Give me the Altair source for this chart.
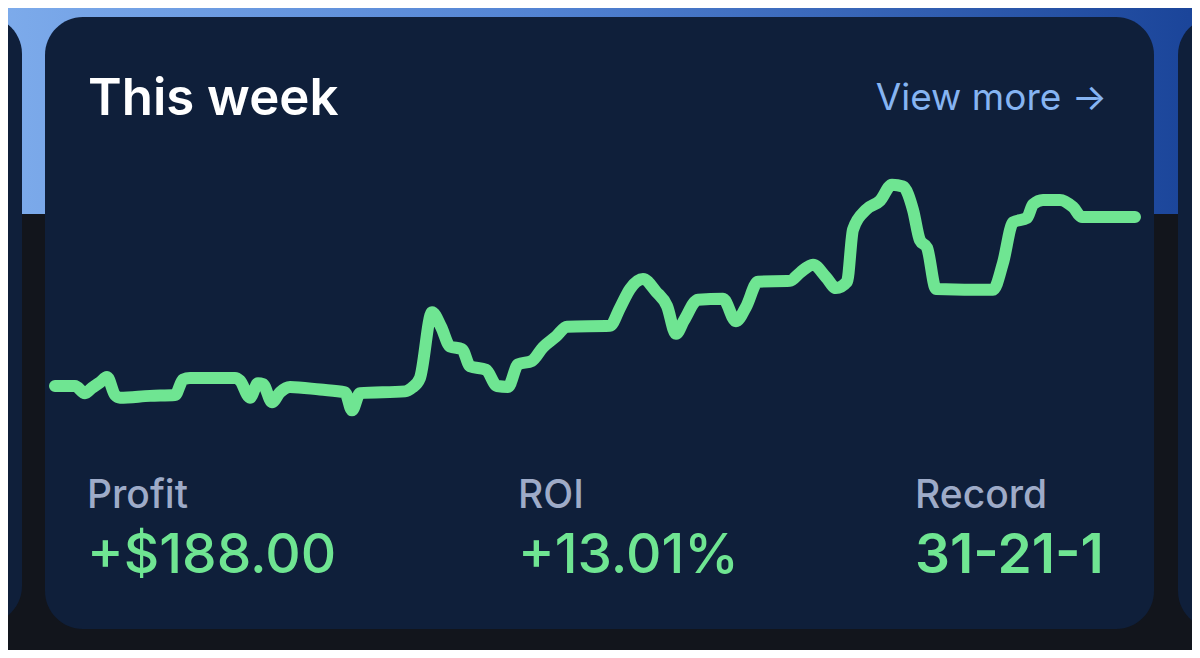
import altair as alt
import pandas as pd

# ---- data (cumulative profit in $ over the week) ----
t = [0, 20, 30, 37, 45, 52, 60, 65, 95, 120, 128, 135, 180, 185, 195, 203, 208, 217,
     225, 235, 265, 290, 297, 305, 350, 357, 365, 377, 386, 395, 407, 415, 431, 442,
     453, 463, 477, 488, 501, 512, 555, 565, 575, 588, 601, 612, 621, 629, 643, 668,
     681, 691, 703, 735, 745, 758, 771, 781, 792, 798, 811, 825, 837, 848, 858, 865,
     872, 881, 938, 948, 958, 972, 978, 988, 1005, 1018, 1027, 1080]
profit = [0, 0, -8, -2, 4, 10, -10, -13, -11, -10, 7, 9, 9, 6, -13, 3, 2, -18,
          -7, -1, -4, -7, -27, -8, -6, -2, 9, 82, 66, 44, 41, 22, 18, 0,
          -1, 24, 28, 43, 55, 66, 67, 87, 108, 119, 105, 89, 58, 73, 96, 97,
          72, 88, 116, 117, 126, 135, 121, 109, 116, 174, 196, 206, 224, 222, 196, 162,
          154, 108, 107, 137, 182, 187, 202, 207, 207, 199, 188, 188]

title = "This week"
link = "View more \u2192"
stat_labels = ["Profit", "ROI", "Record"]
stat_values = ["+$188.00", "+13.01%", "31-21-1"]

df = pd.DataFrame({"t": t, "profit": profit})
one = pd.DataFrame({"k": [0]})

W, H = 1184, 642
FONT = "Inter"

band = alt.Chart(one).mark_rect(
    color=alt.Gradient(
        gradient="linear",
        stops=[alt.GradientStop(color="#7dabeb", offset=0),
               alt.GradientStop(color="#5283d3", offset=0.45),
               alt.GradientStop(color="#1a4499", offset=1)],
        x1=0, x2=1, y1=0, y2=0)
).encode(x=alt.value(-8), x2=alt.value(W + 8), y=alt.value(-8), y2=alt.value(206))

card_color = "#0f1f3a"
left_card = alt.Chart(one).mark_rect(color=card_color, cornerRadius=38).encode(
    x=alt.value(-80), x2=alt.value(14), y=alt.value(8), y2=alt.value(616))
right_card = alt.Chart(one).mark_rect(color=card_color, cornerRadius=38).encode(
    x=alt.value(1170), x2=alt.value(1260), y=alt.value(9), y2=alt.value(621))
card = alt.Chart(one).mark_rect(color=card_color, cornerRadius=38).encode(
    x=alt.value(37), x2=alt.value(1146), y=alt.value(9), y2=alt.value(621))

line = alt.Chart(df).mark_line(
    color="#6fe592", strokeWidth=12, strokeCap="round", strokeJoin="round",
    interpolate="monotone"
).encode(
    x=alt.X("t:Q", axis=None, scale=alt.Scale(domain=[-47, 1137], nice=False, zero=False)),
    y=alt.Y("profit:Q", axis=None, scale=alt.Scale(domain=[-293.7, 420.5], nice=False, zero=False)),
)

title_txt = alt.Chart(one).mark_text(
    text=title, font=FONT, fontSize=51, fontWeight=600, color="#ffffff",
    align="left", baseline="alphabetic"
).encode(x=alt.value(80), y=alt.value(107))

link_txt = alt.Chart(one).mark_text(
    text=link, font=FONT, fontSize=37, fontWeight=400, color="#86b4f2",
    align="right", baseline="alphabetic"
).encode(x=alt.value(1099), y=alt.value(102))

layers = [band, left_card, right_card, card, line, title_txt, link_txt]
xs = [79, 510, 907]
for lab, val, xp in zip(stat_labels, stat_values, xs):
    layers.append(alt.Chart(one).mark_text(
        text=lab, font=FONT, fontSize=39, fontWeight=500, color="#9eabc8",
        align="left", baseline="alphabetic"
    ).encode(x=alt.value(xp), y=alt.value(500)))
    layers.append(alt.Chart(one).mark_text(
        text=val, font=FONT, fontSize=55, fontWeight=500 if lab != "Record" else 600,
        color="#6fe592", align="left", baseline="alphabetic"
    ).encode(x=alt.value(xp), y=alt.value(565)))

chart = alt.layer(*layers).properties(
    width=W, height=H, padding=0, background="#12151c",
    autosize=alt.AutoSizeParams(type="none")
).configure_view(stroke=None)

chart.save("out.html", embed_options={"renderer": "svg", "actions": False})
